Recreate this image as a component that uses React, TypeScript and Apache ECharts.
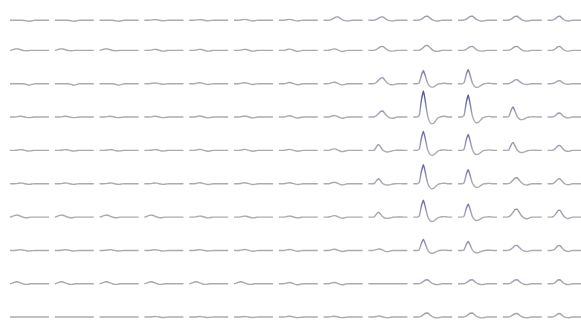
import React, { useEffect, useRef } from "react";
import * as echarts from "echarts";

// Normalised waveform shapes (peak = 1), 20 samples per cell
const spikeShape = [0, 0, 0, 0.08, 0.65, 1, 0.55, 0.05, -0.18, -0.26, -0.24, -0.14, -0.04, 0, 0.02, 0.03, 0.02, 0, 0, 0];
const bumpShape = [0, 0, 0, 0.05, 0.25, 0.6, 0.95, 1, 0.6, 0.2, -0.05, -0.18, -0.2, -0.1, 0, 0, 0, 0, 0, 0];
const waveShape = [0, 0, 0, 0.1, 0.3, 0.5, 0.4, 0.1, -0.2, -0.4, -0.3, -0.1, 0, 0, 0, 0, 0, 0, 0, 0];
const earlyShape = [0, 0.3, 0.7, 1, 0.9, 0.5, 0.1, -0.2, -0.3, -0.2, 0, 0, 0, 0, 0, 0, 0, 0, 0, 0];
const dipShape = [0, 0, 0, 0, 0, 0, 0, -0.2, -0.5, -1, -0.8, -0.4, 0, 0, 0, 0, 0, 0, 0, 0];
const flatShape = [0, 0, 0, 0, 0, 0, 0, 0, 0, 0, 0, 0, 0, 0, 0, 0, 0, 0, 0, 0];

// Shape per cell (rows top→bottom, 13 columns)
const rowShapes = [
  "DDDWWWWBBBBBB",
  "EEEWWWWWBBBBB",
  "DDDWWWWWBSSBB",
  "WWWWWWWWBSSSB",
  "WWWWWWWWSSSSB",
  "WWWWWWWWSSSBB",
  "EEEEWWWWSSSBB",
  "WWWWWWWWWSSBB",
  "EEEEEEWWFBBBB",
  "FFFWWWWWWBBBB",
];

// Peak amplitude per cell (px above baseline)
const amp1 = [1.5, 1.5, 1.5, 2, 2, 2.5, 2.5, 5, 5, 6, 6, 6, 6];
const amp2 = [1.5, 1.5, 1.5, 2, 2, 2, 2.5, 3, 4, 5, 4, 4, 4];
const amp3 = [1.5, 1.5, 1.5, 1.5, 2, 2, 2.5, 3, 6, 13, 14, 4, 3];
const amp4 = [1.5, 1.5, 1.5, 1.5, 2, 2, 2.5, 3, 6, 26, 22, 10, 4];
const amp5 = [1.5, 1.5, 1.5, 1.5, 2, 2, 2, 3, 6, 19, 16, 8, 5];
const amp6 = [1.5, 1.5, 1.5, 1.5, 2, 2, 2, 3, 5, 19, 14, 6, 5];
const amp7 = [2, 2, 2, 2, 2, 2, 2, 3, 5, 17, 13, 8, 7];
const amp8 = [1.5, 1.5, 1.5, 1.5, 1.5, 2, 2, 2.5, 3, 11, 9, 5, 5];
const amp9 = [2, 2, 2, 2, 2, 2, 2.5, 2.5, 0, 4, 4, 4, 4];
const amp10 = [0, 0, 0, 1, 1, 1, 1.5, 1.5, 2, 4, 4, 3.5, 3.5];
const amplitudes = [amp1, amp2, amp3, amp4, amp5, amp6, amp7, amp8, amp9, amp10];

const shapeByKey: Record<string, number[]> = {
  S: spikeShape,
  B: bumpShape,
  W: waveShape,
  E: earlyShape,
  D: dipShape,
  F: flatShape,
};

const sampleIdx = spikeShape.map((_, i) => i);

export default function App() {
  const ref = useRef<HTMLDivElement>(null);
  useEffect(() => {
    if (!ref.current) return;
    const chart = echarts.init(ref.current, null, { renderer: "svg" });
    const grids: any[] = [];
    const xAxes: any[] = [];
    const yAxes: any[] = [];
    const series: any[] = [];
    const rowTop = 17;
    const rowStep = 33.35;
    const colLeft = 10;
    const colStep = 44.8;
    const cellW = 39;
    let k = 0;
    rowShapes.forEach((shapes, r) => {
      shapes.split("").forEach((key, c) => {
        const base = rowTop + rowStep * r;
        grids.push({
          left: colLeft + colStep * c,
          top: base - 30,
          width: cellW,
          height: 40,
        });
        xAxes.push({
          type: "category",
          gridIndex: k,
          data: sampleIdx,
          boundaryGap: false,
          show: false,
        });
        yAxes.push({
          type: "value",
          gridIndex: k,
          min: -10,
          max: 30,
          show: false,
        });
        const a = amplitudes[r][c];
        series.push({
          type: "line",
          xAxisIndex: k,
          yAxisIndex: k,
          data: shapeByKey[key].map((v) => v * a),
          symbol: "none",
          smooth: 0.15,
          lineStyle: { width: 1.4 },
        });
        k++;
      });
    });
    chart.setOption({
      animation: false,
      backgroundColor: "#ffffff",
      grid: grids,
      xAxis: xAxes,
      yAxis: yAxes,
      visualMap: {
        show: false,
        type: "continuous",
        dimension: 1,
        min: -10,
        max: 25,
        inRange: {
          color: ["#ababb2", "#ababb2", "#ababb2", "#9a9ab6", "#8484b2", "#7070aa", "#6060a4", "#54549e"],
        },
        outOfRange: { color: "#ababb2" },
      },
      series,
    });
    return () => chart.dispose();
  }, []);
  return (
    <div
      ref={ref}
      style={{ position: "fixed", left: 0, top: 0, width: 581, height: 327 }}
    />
  );
}
